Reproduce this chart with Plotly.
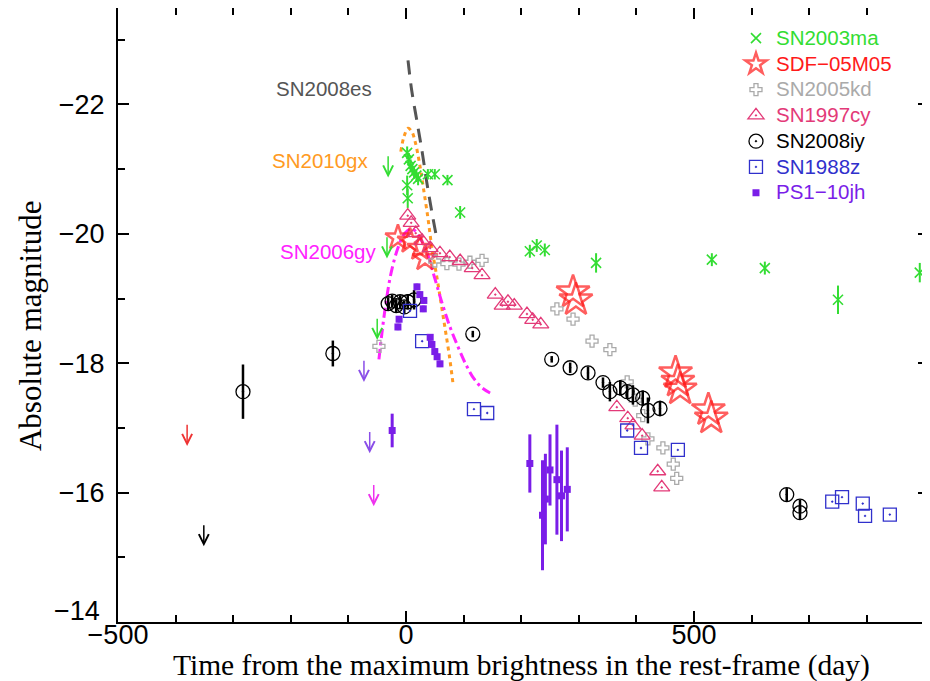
import plotly.graph_objects as go

# ---------------- data ----------------
# SN2003ma
sn03ma_x = [2, 5, 8, 11, 14, 18, 21, 2, 3, 38, 50, 72, 94, 215, 227, 241, 330, 531, 623, 750, 892]
sn03ma_y = [-21.25, -21.15, -21.05, -21.0, -20.95, -20.9, -20.85, -20.75, -20.55, -20.92, -20.92,
            -20.83, -20.33, -19.73, -19.82, -19.75, -19.55, -19.6, -19.47, -18.98, -19.4]
sn03ma_err = [0.1, 0.1, 0.1, 0.1, 0.1, 0.1, 0.1, 0.15, 0.15, 0.08, 0.08, 0.08, 0.1, 0.1, 0.1,
              0.1, 0.15, 0.1, 0.1, 0.22, 0.15]

# SDF-05M05
sdf_x = [-14, 7, 24, 33, 290, 295, 468, 472, 476, 525, 530]
sdf_y = [-19.94, -19.89, -19.78, -19.62, -19.1, -18.98, -17.85, -17.72, -17.6, -17.28, -17.15]

# SN2005kd
sn05kd_x = [-47, 50, 71, 92, 111, 132, 262, 290, 323, 354, 384, 398, 411, 420, 446, 464, 470]
sn05kd_y = [-18.26, -19.58, -19.54, -19.53, -19.56, -19.59, -18.84, -18.68, -18.34, -18.21,
            -17.71, -17.43, -17.19, -16.83, -16.69, -16.44, -16.22]

# SN1997cy
sn97cy_x = [3, 9, 17, 28, 42, 59, 76, 94, 115, 132, 155, 167, 177, 188, 210, 220, 234,
            366, 385, 394, 410, 437, 444]
sn97cy_y = [-20.28, -20.17, -20.01, -19.89, -19.78, -19.70, -19.64, -19.58, -19.47, -19.36,
            -19.06, -18.89, -18.95, -18.89, -18.76, -18.67, -18.60,
            -17.32, -17.15, -17.04, -16.88, -16.33, -16.08]

# SN2008iy
sn08iy_x = [-283, -127, -31, -24, -17, -10, -3, 3, 14, 116, 253, 285, 316, 342, 354, 372,
            384, 394, 411, 420, 441, 661, 684, 684]
sn08iy_y = [-17.56, -18.15, -18.92, -18.96, -18.89, -18.95, -18.87, -18.95, -18.98, -18.45,
            -18.06, -17.93, -17.85, -17.70, -17.56, -17.62, -17.56, -17.51, -17.46, -17.27,
            -17.30, -15.97, -15.79, -15.69]
sn08iy_err = [0.42, 0.2, 0.1, 0.1, 0.1, 0.1, 0.1, 0.12, 0.15, 0.05, 0.05, 0.08, 0.1, 0.08,
              0.15, 0.12, 0.1, 0.15, 0.12, 0.2, 0.12, 0.1, 0.1, 0.1]

# SN1988z
sn88z_x = [7, 28, 118, 141, 384, 408, 472, 740, 757, 793, 797, 840]
sn88z_y = [-18.81, -18.34, -17.29, -17.23, -16.96, -16.69, -16.66, -15.86, -15.93, -15.83,
           -15.64, -15.66]

# PS1-10jh
ps1_x = [19, 24, 31, 30, -12, -14, 42, 45, 50, 54, 59, -24, 215, 237, 242, 250, 262, 270, 280]
ps1_y = [-19.18, -19.06, -18.97, -18.84, -18.68, -18.56, -18.40, -18.29, -18.18, -18.10,
         -17.99, -16.96, -16.45, -15.65, -15.9, -16.35, -16.2, -15.95, -16.05]
ps1_err = [0.05, 0.05, 0.05, 0.05, 0.05, 0.05, 0.05, 0.05, 0.05, 0.05, 0.05, 0.26,
           0.45, 0.85, 0.7, 0.55, 0.85, 0.7, 0.65]

# upper limits (x, limiting magnitude)
lim_red = [(-380, -17.07)]
lim_black = [(-351, -15.52)]
lim_green = [(-31, -21.22), (-33, -19.97), (-50, -18.71)]
lim_purple = [(-73, -18.06), (-63, -16.96)]
lim_magenta = [(-56, -16.14)]

# model / template light curves
es_x = [3.5, 10, 19, 28, 36, 45, 54]
es_y = [-22.68, -22.21, -21.74, -21.27, -20.80, -20.33, -19.90]

gx_x = [-9, -3.5, 3.5, 10, 16, 23, 30, 38, 45, 54, 61, 68, 75, 82]
gx_y = [-21.27, -21.50, -21.63, -21.58, -21.42, -21.11, -20.72, -20.25, -19.78, -19.31,
        -18.92, -18.53, -18.13, -17.66]

gy_x = [-47, -42, -35, -26, -14, -2, 10, 24, 38, 50, 63, 76, 90, 104, 118, 132, 146]
gy_y = [-18.06, -18.45, -18.92, -19.39, -19.78, -20.01, -20.08, -19.94, -19.67, -19.31,
        -18.92, -18.57, -18.26, -17.98, -17.76, -17.62, -17.54]

curve_labels = ["SN2008es", "SN2010gx", "SN2006gy"]
curve_label_x = [-142, -149, -135]
curve_label_y = [-22.24, -21.14, -19.73]

x_title = "Time from the maximum brightness in the rest-frame (day)"
y_title = "Absolute magnitude"

y_tickvals = [-22, -20, -18, -16, -14]
y_ticktext = ["\u221222", "\u221220", "\u221218", "\u221216", ""]   # -14 placed separately
y_bottom_label = "\u221214"

# ---------------- styling ----------------
C_GREEN = "#33dd33"
C_RED = "#ff1a1a"
C_GRAY = "#aaaaaa"
C_PINK = "#e33a78"
C_BLACK = "#000000"
C_BLUE = "#3030cc"
C_PURPLE = "#7a1ee8"
C_MAGENTA = "#ff22ff"
C_ORANGE = "#ff9a22"
C_DGRAY = "#555555"


def lname(txt, col):
    return '<span style="color:%s;font-size:20.5px">%s</span>' % (col, txt)


fig = go.Figure()

# curves (no legend)
fig.add_trace(go.Scatter(x=es_x, y=es_y, mode="lines", showlegend=False,
                         line=dict(color=C_DGRAY, width=3, dash="14px,9px"), line_shape="spline"))
fig.add_trace(go.Scatter(x=gx_x, y=gx_y, mode="lines", showlegend=False,
                         line=dict(color=C_ORANGE, width=3, dash="4px,4px"), line_shape="spline"))
fig.add_trace(go.Scatter(x=gy_x, y=gy_y, mode="lines", showlegend=False,
                         line=dict(color=C_MAGENTA, width=3, dash="10px,4px,3px,4px"),
                         line_shape="spline"))

# data series
fig.add_trace(go.Scatter(
    x=sn03ma_x, y=sn03ma_y, mode="markers", name=lname("SN2003ma", C_GREEN),
    marker=dict(symbol="x-thin", size=10, line=dict(color=C_GREEN, width=1.6), color=C_GREEN),
    error_y=dict(type="data", array=sn03ma_err, color=C_GREEN, thickness=2, width=0)))

sdf_size = [19 if v < 100 else 25 for v in sdf_x]
fig.add_trace(go.Scatter(
    x=sdf_x, y=sdf_y, mode="markers", name=lname("SDF\u221205M05", C_RED),
    marker=dict(symbol="star-open", size=sdf_size, color=C_RED, line=dict(width=2.5))))

fig.add_trace(go.Scatter(
    x=sn05kd_x, y=sn05kd_y, mode="markers", name=lname("SN2005kd", C_GRAY),
    marker=dict(symbol="cross-open", size=10, color=C_GRAY, line=dict(width=1.3))))

fig.add_trace(go.Scatter(
    x=sn97cy_x, y=sn97cy_y, mode="markers", name=lname("SN1997cy", C_PINK),
    marker=dict(symbol="triangle-up-open-dot", size=14, color=C_PINK, line=dict(width=1.3))))

fig.add_trace(go.Scatter(
    x=sn08iy_x, y=sn08iy_y, mode="markers", name=lname("SN2008iy", C_BLACK),
    marker=dict(symbol="circle-open-dot", size=14, color=C_BLACK, line=dict(width=1.3)),
    error_y=dict(type="data", array=sn08iy_err, color=C_BLACK, thickness=2.5, width=0)))

fig.add_trace(go.Scatter(
    x=sn88z_x, y=sn88z_y, mode="markers", name=lname("SN1988z", C_BLUE),
    marker=dict(symbol="square-open-dot", size=13, color=C_BLUE, line=dict(width=1.3))))

fig.add_trace(go.Scatter(
    x=ps1_x, y=ps1_y, mode="markers", name=lname("PS1\u221210jh", C_PURPLE),
    marker=dict(symbol="square", size=7, color=C_PURPLE, line=dict(width=0)),
    error_y=dict(type="data", array=ps1_err, color=C_PURPLE, thickness=3, width=0)))

# upper-limit arrows
ARROW_LEN = 0.35
annotations = []
for lims, col in [(lim_red, "#ee3333"), (lim_black, C_BLACK), (lim_green, C_GREEN),
                  (lim_purple, "#8a4ee8"), (lim_magenta, "#ee33ee")]:
    for (lx, ly) in lims:
        annotations.append(dict(x=lx, y=ly + ARROW_LEN, ax=lx, ay=ly, xref="x", yref="y",
                                axref="x", ayref="y", text="", showarrow=True, arrowhead=5,
                                arrowsize=1.3, arrowwidth=1.5, arrowcolor=col, standoff=0))

for txt, lx, ly, col in zip(curve_labels, curve_label_x, curve_label_y,
                            [C_DGRAY, C_ORANGE, C_MAGENTA]):
    annotations.append(dict(x=lx, y=ly, xref="x", yref="y", text=txt, showarrow=False,
                            font=dict(family="Liberation Sans", size=20.5, color=col)))

# bottom y tick label, lifted so it clears the x tick label below it
annotations.append(dict(x=0, y=y_tickvals[-1], xref="paper", yref="y", xshift=-16, yshift=11,
                        xanchor="right", yanchor="middle", text=y_bottom_label, showarrow=False,
                        font=dict(family="Liberation Sans", size=27, color="black")))

# axis titles
annotations.append(dict(x=0.4975, y=0, xref="paper", yref="paper", yshift=-43,
                        xanchor="center", yanchor="middle", text=x_title, showarrow=False,
                        font=dict(family="Liberation Serif", size=29.5, color="black")))
annotations.append(dict(x=0, y=0.482, xref="paper", yref="paper", xshift=-88,
                        xanchor="center", yanchor="middle", text=y_title, showarrow=False,
                        textangle=-90,
                        font=dict(family="Liberation Serif", size=31, color="black")))

axis_common = dict(showline=True, linewidth=2, linecolor="black", mirror="ticks",
                   ticks="inside", ticklen=11, tickwidth=2, tickcolor="black",
                   showgrid=False, zeroline=False, automargin=False,
                   tickfont=dict(family="Liberation Sans", size=27, color="black"))

# the page places the figure 8px from the top-left corner
fig.update_layout(
    width=922, height=673,
    margin=dict(l=110, r=1, t=0, b=59),
    plot_bgcolor="white", paper_bgcolor="white",
    font=dict(family="Liberation Sans", color="black"),
    xaxis=dict(range=[-500, 908], tick0=0, dtick=500, ticklabelstandoff=-12,
               minor=dict(dtick=100, ticks="inside", ticklen=7, tickwidth=1.5, tickcolor="black"),
               **axis_common),
    yaxis=dict(range=[-14, -23.49], tickvals=y_tickvals, ticktext=y_ticktext,
               ticklabelstandoff=6,
               minor=dict(dtick=1, ticks="inside", ticklen=7, tickwidth=1.5, tickcolor="black"),
               **axis_common),
    legend=dict(x=0.762, y=0.98, xanchor="left", yanchor="top",
                bgcolor="rgba(0,0,0,0)", font=dict(family="Liberation Sans", size=17.5)),
    annotations=annotations,
)

fig.write_html("out.html")
